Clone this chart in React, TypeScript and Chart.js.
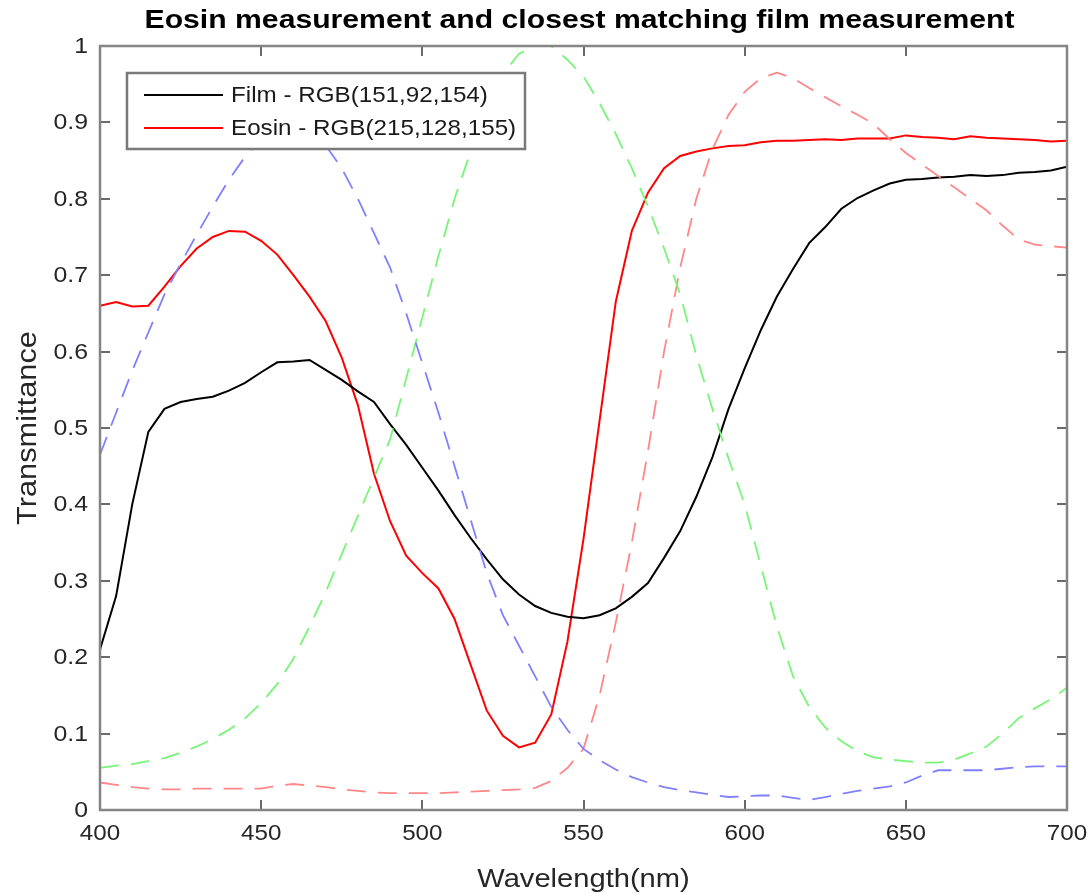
import React, { useEffect, useRef } from 'react';
import { Chart, registerables } from 'chart.js';

Chart.register(...registerables);

// Wavelength grid (nm)
const wavelengths = [
  400, 405, 410, 415, 420, 425, 430, 435, 440, 445, 450, 455, 460, 465, 470, 475,
  480, 485, 490, 495, 500, 505, 510, 515, 520, 525, 530, 535, 540, 545, 550, 555,
  560, 565, 570, 575, 580, 585, 590, 595, 600, 605, 610, 615, 620, 625, 630, 635,
  640, 645, 650, 655, 660, 665, 670, 675, 680, 685, 690, 695, 700,
];

// Measured transmittance of the film
const filmT = [
  0.21, 0.28, 0.4, 0.495, 0.525, 0.534, 0.538, 0.541, 0.549, 0.559, 0.573, 0.586, 0.587, 0.589, 0.576, 0.563,
  0.548, 0.534, 0.505, 0.478, 0.448, 0.418, 0.386, 0.356, 0.328, 0.302, 0.282, 0.267, 0.258, 0.253, 0.251, 0.255,
  0.264, 0.279, 0.297, 0.33, 0.365, 0.41, 0.462, 0.525, 0.578, 0.628, 0.672, 0.708, 0.742, 0.763, 0.787, 0.801,
  0.811, 0.82, 0.825, 0.826, 0.828, 0.829, 0.831, 0.83, 0.831, 0.834, 0.835, 0.837, 0.842,
];

// Measured transmittance of eosin
const eosinT = [
  0.66, 0.665, 0.659, 0.66, 0.685, 0.712, 0.735, 0.75, 0.758, 0.757, 0.745, 0.727, 0.7, 0.672, 0.64, 0.592,
  0.53, 0.44, 0.378, 0.333, 0.31, 0.29, 0.25, 0.19, 0.13, 0.097, 0.082, 0.088, 0.125, 0.22, 0.355, 0.51,
  0.665, 0.758, 0.808, 0.84, 0.856, 0.862, 0.866, 0.869, 0.87, 0.874, 0.876, 0.876, 0.877, 0.878, 0.877, 0.879,
  0.879, 0.879, 0.883, 0.881, 0.88, 0.878, 0.882, 0.88, 0.879, 0.878, 0.877, 0.875, 0.876,
];

// Camera channel sensitivities (dashed)
const blueChannel = [
  0.465, 0.52, 0.575, 0.625, 0.675, 0.715, 0.753, 0.79, 0.825, 0.855, 0.88, 0.895, 0.898, 0.89, 0.87, 0.84,
  0.8, 0.755, 0.71, 0.65, 0.585, 0.52, 0.45, 0.38, 0.31, 0.255, 0.215, 0.175, 0.135, 0.105, 0.08, 0.065,
  0.053, 0.043, 0.036, 0.03, 0.026, 0.023, 0.02, 0.017, 0.018, 0.019, 0.019, 0.016, 0.013, 0.017, 0.021, 0.025,
  0.028, 0.031, 0.036, 0.045, 0.052, 0.052, 0.052, 0.052, 0.054, 0.056, 0.057, 0.057, 0.057,
];

const greenChannel = [
  0.055, 0.058, 0.06, 0.064, 0.068, 0.075, 0.083, 0.093, 0.105, 0.12, 0.14, 0.165, 0.198, 0.24, 0.285, 0.335,
  0.385, 0.435, 0.485, 0.565, 0.645, 0.725, 0.8, 0.862, 0.92, 0.963, 0.99, 1.0, 1.0, 0.982, 0.96, 0.925,
  0.885, 0.84, 0.79, 0.735, 0.675, 0.595, 0.525, 0.46, 0.4, 0.32, 0.24, 0.175, 0.135, 0.108, 0.09, 0.077,
  0.069, 0.066, 0.064, 0.062, 0.062, 0.066, 0.074, 0.083, 0.1, 0.12, 0.133, 0.145, 0.16,
];

const redChannel = [
  0.036, 0.033, 0.03, 0.028, 0.027, 0.027, 0.028, 0.028, 0.028, 0.028, 0.028, 0.032, 0.034, 0.032, 0.03, 0.027,
  0.025, 0.023, 0.022, 0.022, 0.022, 0.022, 0.023, 0.024, 0.025, 0.026, 0.027, 0.029, 0.038, 0.055, 0.08, 0.15,
  0.245, 0.35, 0.47, 0.6, 0.71, 0.8, 0.865, 0.91, 0.94, 0.958, 0.965, 0.958, 0.945, 0.933, 0.921, 0.91,
  0.898, 0.878, 0.86, 0.845, 0.83, 0.815, 0.8, 0.785, 0.765, 0.747, 0.74, 0.738, 0.736,
];

const xTickValues = [400, 450, 500, 550, 600, 650, 700];
const yTickValues = [0, 0.1, 0.2, 0.3, 0.4, 0.5, 0.6, 0.7, 0.8, 0.9, 1];

const chartTitle = 'Eosin measurement and closest matching film measurement';
const xAxisTitle = 'Wavelength(nm)';
const yAxisTitle = 'Transmittance';

const legendLabels = ['Film - RGB(151,92,154)', 'Eosin - RGB(215,128,155)'];
const legendColors = ['#000000', '#ff0000'];

const FONT = '"Liberation Sans", Arial, Helvetica, sans-serif';
const TEXT_STRETCH = 1.1;

const toPoints = (ys: number[]) => wavelengths.map((x, i) => ({ x, y: ys[i] }));

const yTickText = (v: number) => String(Number(v.toFixed(1)));

// Text drawn slightly widened along its reading direction
function drawText(
  ctx: CanvasRenderingContext2D,
  text: string,
  x: number,
  y: number,
  font: string,
  color: string,
  align: CanvasTextAlign,
  stretch = TEXT_STRETCH,
  angle = 0,
) {
  ctx.save();
  ctx.translate(x, y);
  if (angle) ctx.rotate(angle);
  ctx.scale(stretch, 1);
  ctx.font = font;
  ctx.fillStyle = color;
  ctx.textAlign = align;
  ctx.textBaseline = 'middle';
  ctx.fillText(text, 0, 0);
  ctx.restore();
}

// Draws the boxed axes with inward ticks, tick labels, the inset legend and titles.
const axesDecorations = {
  id: 'axesDecorations',
  afterDatasetsDraw(chart: any) {
    const { ctx, chartArea: a, scales } = chart;
    const xs = scales.x;
    const ys = scales.y;
    ctx.save();

    // inward ticks on all four sides
    ctx.strokeStyle = '#3a3a3a';
    ctx.lineWidth = 1.5;
    ctx.beginPath();
    for (const t of xTickValues) {
      const px = Math.round(xs.getPixelForValue(t));
      ctx.moveTo(px, a.bottom);
      ctx.lineTo(px, a.bottom - 10);
      ctx.moveTo(px, a.top);
      ctx.lineTo(px, a.top + 10);
    }
    for (const t of yTickValues) {
      const py = Math.round(ys.getPixelForValue(t));
      ctx.moveTo(a.left, py);
      ctx.lineTo(a.left + 10, py);
      ctx.moveTo(a.right, py);
      ctx.lineTo(a.right - 10, py);
    }
    ctx.stroke();

    // axes box
    ctx.strokeStyle = '#858585';
    ctx.lineWidth = 2.5;
    ctx.strokeRect(a.left, a.top, a.right - a.left, a.bottom - a.top);

    // tick labels
    const tickFont = `22px ${FONT}`;
    for (const t of xTickValues) {
      drawText(ctx, String(t), xs.getPixelForValue(t), a.bottom + 24, tickFont, '#262626', 'center');
    }
    for (const t of yTickValues) {
      drawText(ctx, yTickText(t), a.left - 12, ys.getPixelForValue(t) + 1, tickFont, '#262626', 'right', 1.13);
    }

    // legend
    const lx = a.left + 27;
    const ly = a.top + 27;
    const lw = 398;
    const lh = 76;
    ctx.fillStyle = '#ffffff';
    ctx.fillRect(lx, ly, lw, lh);
    ctx.strokeStyle = '#7a7a7a';
    ctx.lineWidth = 2.5;
    ctx.strokeRect(lx, ly, lw, lh);
    legendLabels.forEach((label, i) => {
      const cy = ly + 22 + i * 33;
      ctx.strokeStyle = legendColors[i];
      ctx.lineWidth = 1.8;
      ctx.beginPath();
      ctx.moveTo(lx + 17, cy);
      ctx.lineTo(lx + 96, cy);
      ctx.stroke();
      drawText(ctx, label, lx + 104, cy + 1, `22px ${FONT}`, '#1a1a1a', 'left', 1.1);
    });

    // title
    drawText(ctx, chartTitle, (a.left + a.right) / 2 - 4, 21, `bold 26px ${FONT}`, '#000000', 'center', 1.16);

    // axis titles
    drawText(ctx, xAxisTitle, (a.left + a.right) / 2, 880, `26px ${FONT}`, '#262626', 'center', 1.12);
    drawText(ctx, yAxisTitle, 29, (a.top + a.bottom) / 2, `27px ${FONT}`, '#262626', 'center', 1.14, -Math.PI / 2);

    ctx.restore();
  },
};

export default function App() {
  const canvasRef = useRef<HTMLCanvasElement | null>(null);

  useEffect(() => {
    const canvas = canvasRef.current;
    if (!canvas) return;
    const line = (label: string, data: number[], color: string, dash: number[]) => ({
      label,
      data: toPoints(data),
      borderColor: color,
      borderWidth: dash.length ? 1.8 : 2,
      borderDash: dash,
      pointRadius: 0,
      tension: 0,
      fill: false,
    });

    const chart = new Chart(canvas, {
      type: 'line',
      data: {
        datasets: [
          line('Blue channel', blueChannel, 'rgb(128,128,255)', [19, 12]),
          line('Green channel', greenChannel, 'rgb(120,245,120)', [19, 12]),
          line('Red channel', redChannel, 'rgb(255,135,135)', [19, 12]),
          line(legendLabels[0], filmT, '#000000', []),
          line(legendLabels[1], eosinT, '#ff0000', []),
        ],
      },
      options: {
        responsive: false,
        animation: false,
        events: [],
        layout: { padding: { top: 46, right: 24, left: 0, bottom: 0 } },
        plugins: {
          legend: { display: false },
          title: { display: false },
          tooltip: { enabled: false },
        },
        scales: {
          x: {
            type: 'linear',
            min: 400,
            max: 700,
            afterBuildTicks: (s: any) => {
              s.ticks = xTickValues.map((v) => ({ value: v }));
            },
            afterFit: (s: any) => {
              s.height = 84;
              s.paddingLeft = 0;
              s.paddingRight = 0;
            },
            grid: { display: false, drawTicks: false },
            border: { display: false },
            ticks: { display: false },
          },
          y: {
            type: 'linear',
            min: 0,
            max: 1,
            afterBuildTicks: (s: any) => {
              s.ticks = yTickValues.map((v) => ({ value: v }));
            },
            afterFit: (s: any) => {
              s.width = 100;
              s.paddingTop = 0;
              s.paddingBottom = 0;
            },
            grid: { display: false, drawTicks: false },
            border: { display: false },
            ticks: { display: false },
          },
        },
      },
      plugins: [axesDecorations],
    });

    return () => chart.destroy();
  }, []);

  return (
    <div style={{ position: 'fixed', left: 0, top: 0, width: 1091, height: 894, background: '#fff' }}>
      <canvas ref={canvasRef} width={1091} height={894} style={{ display: 'block' }} />
    </div>
  );
}
